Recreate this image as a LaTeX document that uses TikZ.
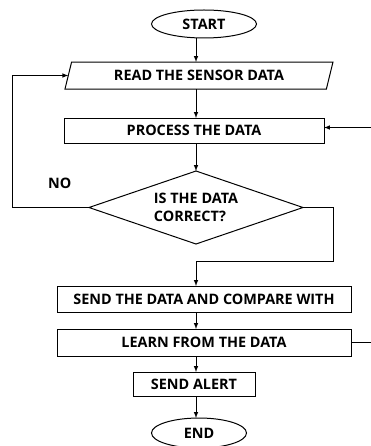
\documentclass[tikz,border=0pt]{standalone}
\usepackage{fontspec}
\setmainfont{Open Sans}
\usetikzlibrary{positioning}
\usetikzlibrary{shapes.geometric}
\usetikzlibrary{arrows}

\begin{document}
\begin{tikzpicture}[x=1pt, y=1pt, >=latex, line width=1pt,
            every node/.style={font=\bfseries\fontsize{14.4}{18}\selectfont, outer sep=0pt},
            term/.style={draw, ellipse, minimum width=105pt, minimum height=28pt, inner sep=0pt},
            io/.style={draw, trapezium, trapezium left angle=58, trapezium right angle=122,
            trapezium stretches body, minimum width=268pt, minimum height=27pt, inner sep=0pt},
            proc/.style={draw, rectangle, minimum height=25pt, inner sep=0pt},
            decide/.style={draw, diamond, shape aspect=2.9, minimum width=214pt,
            minimum height=73pt, inner sep=0pt, align=left}]
        \useasboundingbox (0,0) rectangle (370,-446);

        \node[term] (start) at (204,-24) {START};
        \node[io] (read) [xshift=-5pt, below=24pt of start] {READ THE SENSOR DATA};
        \node[proc, minimum width=260pt] (process) [xshift=-5pt, below=29pt of read] {PROCESS THE DATA};
        \node[decide] (check) [xshift=2pt, below=28pt of process] {IS THE DATA\\CORRECT?};
        \node[proc, minimum width=294pt, minimum height=26pt] (send) [xshift=8pt, below=42pt of check] {SEND THE DATA AND COMPARE WITH};
        \node[proc, minimum width=294pt, minimum height=27pt] (learn) [below=17pt of send] {LEARN FROM THE DATA};
        \node[proc, minimum width=122pt, minimum height=24pt] (alert) [xshift=-10pt, below=16pt of learn] {SEND ALERT};
        \node[term, minimum width=95pt, minimum height=30pt] (stop) [xshift=5pt, below=22pt of alert] {END};

        \draw[->] (start.south -| check) -- (read.north -| check);
        \draw[->] (read.south -| check) -- (process.north -| check);
        \draw[->] (process.south -| check) -- (check.north);
        \draw[->] (check.west) -- node[pos=0.38, above=19pt, inner sep=0pt] (no) {NO} ++(-77,0) |- (read.west);
        \draw[->] (check.east) -- ++(30,0) -- ++(0,-54) -| (send.north -| check);
        \draw[->] (send.south -| check) -- (learn.north -| check);
        \draw[->] (learn.south -| check) -- (alert.north -| check);
        \draw[->] (alert.south -| check) -- (stop.north -| check);
        \draw[->] (learn.east) -- ++(30,0) |- ([yshift=3pt]process.east);
    \end{tikzpicture}
\end{document}
